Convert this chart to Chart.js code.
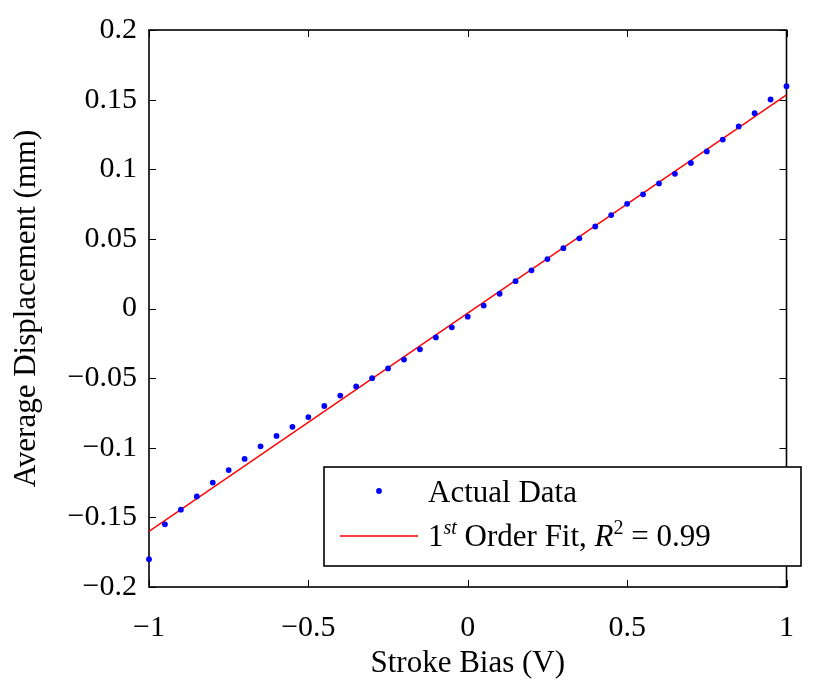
<!DOCTYPE html>
<html>
<head>
<meta charset="utf-8">
<script src="https://cdn.jsdelivr.net/npm/chart.js@4.4.0/dist/chart.umd.min.js"></script>
<style>
    html, body { margin: 0; padding: 0; background: #ffffff; }
    #wrap { width: 817px; height: 684px; position: relative; }
</style>
</head>
<body>
<div id="wrap"><canvas id="biasChart"></canvas></div>
<script>
// Stroke bias sweep (V) and measured average displacement (mm)
const biasVolts = [-1, -0.95, -0.9, -0.85, -0.8, -0.75, -0.7, -0.65, -0.6, -0.55,
    -0.5, -0.45, -0.4, -0.35, -0.3, -0.25, -0.2, -0.15, -0.1, -0.05,
    0, 0.05, 0.1, 0.15, 0.2, 0.25, 0.3, 0.35, 0.4, 0.45,
    0.5, 0.55, 0.6, 0.65, 0.7, 0.75, 0.8, 0.85, 0.9, 0.95, 1];
const avgDisplacement = [-0.180, -0.155, -0.1445, -0.135, -0.125, -0.116, -0.108, -0.099, -0.0915, -0.085,
    -0.078, -0.070, -0.0625, -0.056, -0.050, -0.043, -0.0367, -0.0293, -0.0208, -0.0135,
    -0.0059, 0.0021, 0.0106, 0.0196, 0.0274, 0.0355, 0.0433, 0.0504, 0.0589, 0.0671,
    0.0752, 0.0820, 0.0898, 0.0967, 0.1045, 0.1128, 0.1213, 0.1307, 0.1402, 0.1501, 0.1596];

// 1st order fit end points
const fitX = [-1, 1];
const fitY = [-0.160, 0.1534];

// tick values
const xTicks = [-1, -0.5, 0, 0.5, 1];
const yTicks = [-0.2, -0.15, -0.1, -0.05, 0, 0.05, 0.1, 0.15, 0.2];

const serif = '"Liberation Serif", "Times New Roman", serif';

function fmtTick(v) {
    return String(+v.toFixed(2)).replace('-', '\u2212');
}

// MATLAB style box with inward ticks on all four sides
const boxPlugin = {
    id: 'boxPlugin',
    beforeDatasetsDraw(chart) {
        const { ctx, chartArea: a, scales } = chart;
        const tl = 7;
        ctx.save();
        ctx.strokeStyle = '#000';
        ctx.lineWidth = 1;
        ctx.beginPath();
        xTicks.forEach(v => {
            const px = Math.round(scales.x.getPixelForValue(v)) + 0.5;
            ctx.moveTo(px, a.bottom); ctx.lineTo(px, a.bottom - tl);
            ctx.moveTo(px, a.top); ctx.lineTo(px, a.top + tl);
        });
        yTicks.forEach(v => {
            const py = Math.round(scales.y.getPixelForValue(v)) + 0.5;
            ctx.moveTo(a.left, py); ctx.lineTo(a.left + tl, py);
            ctx.moveTo(a.right, py); ctx.lineTo(a.right - tl, py);
        });
        ctx.stroke();
        ctx.lineWidth = 1.6;
        ctx.strokeRect(a.left, a.top, a.right - a.left, a.bottom - a.top);
        ctx.restore();
    }
};

// legend with superscripts, drawn inside the axes
const legendPlugin = {
    id: 'legendPlugin',
    afterDraw(chart) {
        const ctx = chart.ctx;
        const box = { x: 324, y: 467, w: 477, h: 99 };
        ctx.save();
        ctx.fillStyle = '#fff';
        ctx.fillRect(box.x, box.y, box.w, box.h);
        ctx.strokeStyle = '#000';
        ctx.lineWidth = 1.6;
        ctx.strokeRect(box.x, box.y, box.w, box.h);

        // marker
        ctx.fillStyle = '#0000ff';
        ctx.beginPath();
        ctx.arc(379, 491, 2.9, 0, Math.PI * 2);
        ctx.fill();
        // line sample
        ctx.strokeStyle = '#ff0000';
        ctx.lineWidth = 1.4;
        ctx.beginPath();
        ctx.moveTo(340, 536);
        ctx.lineTo(418, 536);
        ctx.stroke();

        ctx.fillStyle = '#000';
        ctx.textBaseline = 'alphabetic';
        const big = '31px ' + serif;
        const bigIt = 'italic 31px ' + serif;
        const small = '20px ' + serif;
        const smallIt = 'italic 20px ' + serif;
        ctx.font = big;
        ctx.fillText('Actual Data', 428, 502);

        const parts = [
            [big, '1', 546],
            [smallIt, 'st', 534],
            [big, ' Order Fit, ', 546],
            [bigIt, 'R', 546],
            [small, '2', 534],
            [big, ' = 0.99', 546]
        ];
        let x = 428;
        parts.forEach(([font, text, y]) => {
            ctx.font = font;
            ctx.fillText(text, x, y);
            x += ctx.measureText(text).width;
        });
        ctx.restore();
    }
};

const ctx = document.getElementById('biasChart');

new Chart(ctx, {
    type: 'scatter',
    data: {
        datasets: [{
            label: 'Actual Data',
            data: biasVolts.map((v, i) => ({ x: v, y: avgDisplacement[i] })),
            backgroundColor: '#0000ff',
            borderWidth: 0,
            pointRadius: 2.9,
            pointHoverRadius: 2.9,
            clip: 6
        }, {
            label: '1st Order Fit',
            type: 'line',
            data: fitX.map((v, i) => ({ x: v, y: fitY[i] })),
            borderColor: '#ff0000',
            borderWidth: 1.4,
            pointRadius: 0,
            fill: false,
            tension: 0
        }]
    },
    options: {
        responsive: true,
        maintainAspectRatio: false,
        animation: false,
        layout: { padding: { top: 22, right: 7, left: 0, bottom: 0 } },
        plugins: {
            legend: { display: false },
            tooltip: { enabled: false }
        },
        scales: {
            x: {
                type: 'linear',
                min: -1,
                max: 1,
                afterBuildTicks: scale => { scale.ticks = xTicks.map(v => ({ value: v })); },
                afterFit: scale => { scale.height = 97; },
                grid: { display: false, drawTicks: false },
                border: { display: false },
                ticks: {
                    color: '#000',
                    padding: 23,
                    maxRotation: 0,
                    font: { family: serif, size: 30 },
                    callback: v => fmtTick(v)
                },
                title: {
                    display: true,
                    text: 'Stroke Bias (V)',
                    color: '#000',
                    font: { family: serif, size: 31 },
                    padding: { top: 0, bottom: 2 }
                }
            },
            y: {
                type: 'linear',
                min: -0.2,
                max: 0.2,
                afterBuildTicks: scale => { scale.ticks = yTicks.map(v => ({ value: v })); },
                afterFit: scale => { scale.width = 149; },
                grid: { display: false, drawTicks: false },
                border: { display: false },
                ticks: {
                    color: '#000',
                    padding: 12,
                    font: { family: serif, size: 30 },
                    callback: v => fmtTick(v)
                },
                title: {
                    display: true,
                    text: 'Average Displacement (mm)',
                    color: '#000',
                    font: { family: serif, size: 31 },
                    padding: { top: 8, bottom: 0 }
                }
            }
        }
    },
    plugins: [boxPlugin, legendPlugin]
});
</script>
</body>
</html>
